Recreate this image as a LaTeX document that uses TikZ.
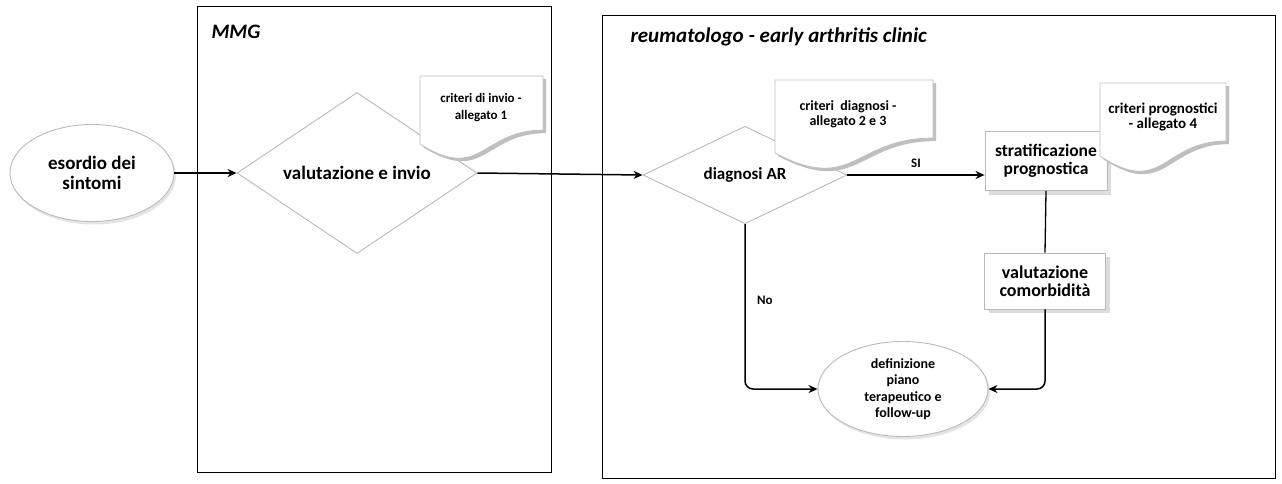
\documentclass[tikz,border=0pt]{standalone}
\usepackage{fontspec}
\setmainfont{Carlito}
\usetikzlibrary{shapes.geometric,shadows,arrows.meta}
\newcommand\tdocshape[4]{%
  \pgfmathsetmacro\dA{#3+0.66*#4}%
  \pgfmathsetmacro\dB{#3+0.83*#4}%
  \pgfmathsetmacro\dC{#3+1.3*#4}%
  \pgfmathsetmacro\dM{(#1+#2)/2}%
  \fill[docshadow,shift={(3,3)}] (#1,#3) -- (#2,#3) -- (#2,\dA) .. controls (\dM,\dA) and (\dM,\dC) .. (#1,\dB) -- cycle;
  \filldraw[docline] (#1,#3) -- (#2,#3) -- (#2,\dA) .. controls (\dM,\dA) and (\dM,\dC) .. (#1,\dB) -- cycle;
}
\begin{document}
\begin{tikzpicture}[x=1pt,y=-1pt,
  lane/.style={draw=black,line width=1.2pt,rectangle,inner sep=0pt,anchor=north west},
  flowline/.style={draw=black,line width=1.5pt},
  arr/.style={flowline,-{Stealth[length=9pt,width=8pt]}},
  soft/.style={draw=gray!55,line width=0.9pt},
  docshadow/.style={fill=gray!50},
  docline/.style={fill=white,draw=gray!50,line width=0.8pt},
  term/.style={soft,ellipse,fill=white,inner sep=0pt,align=center,
    drop shadow={shadow xshift=2pt,shadow yshift=-3pt,fill=gray!40}},
  decision/.style={soft,diamond,inner sep=0pt,align=center},
  proc/.style={soft,rectangle,fill=white,align=center,inner sep=0pt,
    drop shadow={shadow xshift=4pt,shadow yshift=-4pt,fill=gray!55}},
  doctext/.style={align=center,font=\bfseries\fontsize{13}{16}\selectfont},
  lanetitle/.style={anchor=west,font=\bfseries\itshape\fontsize{21}{23}\selectfont},
  lbl/.style={font=\bfseries\fontsize{13}{15}\selectfont},
]
\useasboundingbox (0,0) rectangle (1282,483);

% swimlanes
\node[lane,minimum width=354pt,minimum height=466pt] (mmg) at (197,6) {};
\node[lane,minimum width=673pt,minimum height=463pt] (reum) at (602,15) {};
\node[lanetitle,font=\bfseries\itshape\fontsize{20.5}{23}\selectfont] (tmmg) at (208,32) {MMG};
\node[lanetitle] (treum) at (627,37) {reumatologo - early arthritis clinic};

% decisions
\node[decision,minimum width=240pt,minimum height=99pt,
  font=\bfseries\fontsize{19}{21}\selectfont] (d1) at (357,173) {valutazione e invio};
\node[decision,minimum width=204pt,minimum height=97pt,
  font=\bfseries\fontsize{17}{19}\selectfont] (d2) at (745,175) {diagnosi AR};

% terminators
\node[term,minimum width=164pt,minimum height=97pt,
  font=\bfseries\fontsize{19}{20}\selectfont] (e1) at (92,173) {esordio dei\\sintomi};
\node[term,minimum width=170pt,minimum height=95pt,
  font=\bfseries\fontsize{14}{16.5}\selectfont] (e2) at (903,389) {definizione\\piano\\terapeutico e\\follow-up};

% processes
\node[proc,minimum width=122pt,minimum height=59pt,
  font=\bfseries\fontsize{17.5}{18}\selectfont] (strat) at (1046,161) {stratificazione\\prognostica};
\node[proc,minimum width=121pt,minimum height=56pt,
  font=\bfseries\fontsize{18}{18.5}\selectfont] (val) at (1045,281) {valutazione\\comorbidità};

% documents
\tdocshape{420}{543}{76}{82}
\node[doctext,font=\bfseries\fontsize{13}{17}\selectfont] (doc1) at (481,108) {criteri di invio -\\allegato 1};
\tdocshape{775}{933}{80}{88}
\node[doctext,font=\bfseries\fontsize{14}{15}\selectfont] (doc2) at (848,114) {criteri\ \ diagnosi -\\allegato 2 e 3};
\tdocshape{1100}{1226}{83}{88}
\node[doctext,font=\bfseries\fontsize{15}{15.5}\selectfont] (doc3) at (1163,117) {criteri prognostici\\- allegato 4};

% connectors
\draw[arr] (e1.east) -- (d1.west);
\draw[arr] (d1.east) -- (d2.west);
\draw[arr] (d2.east) -- (d2.east -| strat.west) node[lbl,midway,above=3pt] (lsi) {SI};
\draw[flowline,line width=1.3pt] (strat.south) -- (val.north);
\draw[arr,rounded corners=8pt] (val.south) |- (e2.east);
\draw[arr,rounded corners=8pt] (d2.south) |- (e2.west) node[lbl,pos=0.23,anchor=west,xshift=8pt] (lno) {No};
\end{tikzpicture}
\end{document}
